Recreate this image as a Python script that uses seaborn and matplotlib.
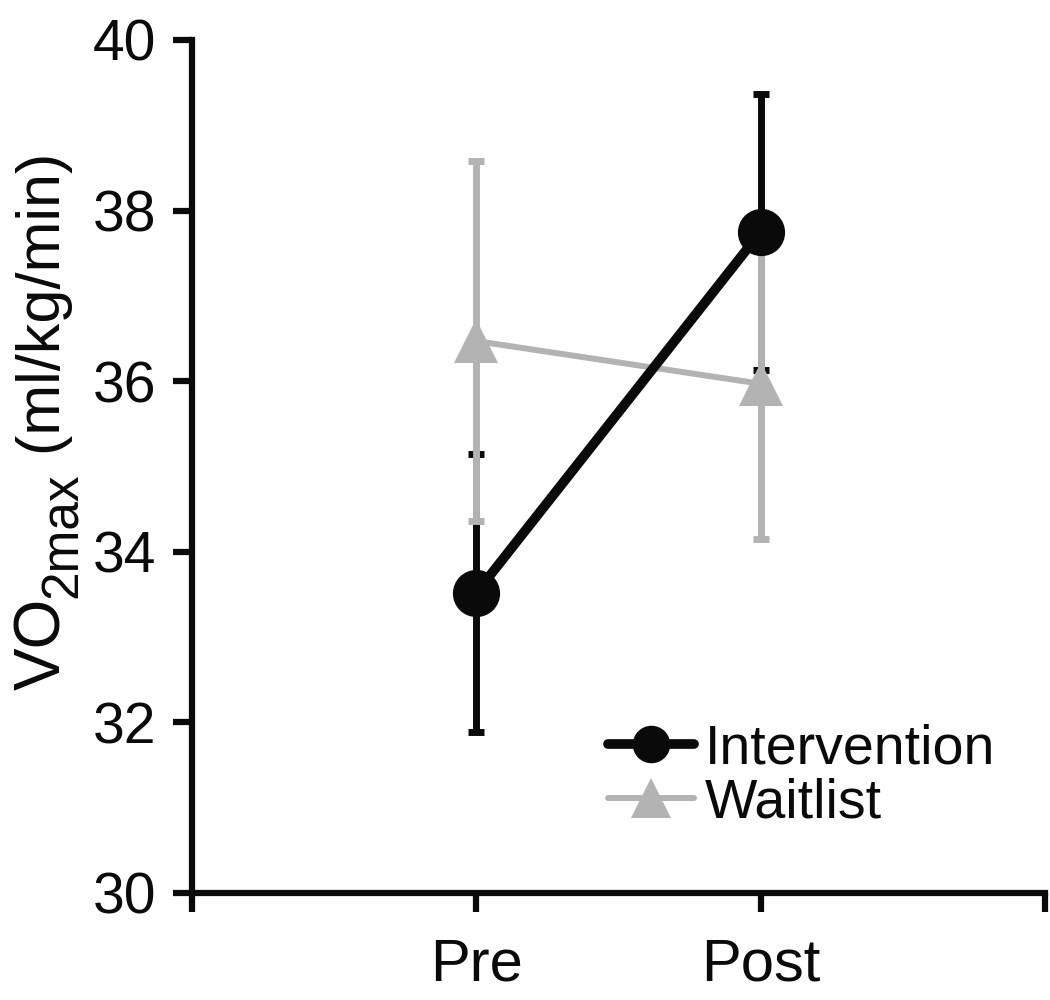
import numpy as np
import pandas as pd
import matplotlib
matplotlib.use("Agg")
import matplotlib.pyplot as plt
import seaborn as sns

# Values
phases = ["Pre", "Post"]
groups = ["Intervention", "Waitlist"]
intervention_mean = [33.52, 37.75]
intervention_err = [1.63, 1.62]
waitlist_mean = [36.47, 35.97]
waitlist_err = [2.11, 1.82]

colors = {"Intervention": "#0a0a0a", "Waitlist": "#b3b3b3"}
markers = {"Intervention": "o", "Waitlist": "^"}

pos = np.arange(1, len(phases) + 1)
df = pd.DataFrame({
    "pos": np.concatenate([pos, pos]),
    "VO2": intervention_mean + waitlist_mean,
    "err": intervention_err + waitlist_err,
    "group": [groups[0]] * len(phases) + [groups[1]] * len(phases),
})

sns.set_style("ticks")
plt.rcParams["font.family"] = ["Liberation Sans", "DejaVu Sans"]

fig = plt.figure(figsize=(10.5, 10), dpi=100)
ax = fig.add_axes([0.183, 0.107, 0.812, 0.853])

# error bars: black first, gray drawn over it
for z, g in [(1, "Intervention"), (2, "Waitlist")]:
    sub = df[df["group"] == g]
    ax.errorbar(sub["pos"], sub["VO2"], yerr=sub["err"], fmt="none",
                ecolor=colors[g], elinewidth=5, capsize=6, capthick=5,
                zorder=z)

# lines + markers: gray under black
for z, g in [(3, "Waitlist"), (4, "Intervention")]:
    sub = df[df["group"] == g]
    ms = 34 if g == "Intervention" else 31
    lw = 7 if g == "Intervention" else 4.3
    sns.lineplot(data=sub, x="pos", y="VO2", ax=ax, color=colors[g],
                 marker=markers[g], markersize=ms, markeredgewidth=0,
                 linewidth=lw, label=g, zorder=z, legend=False)

ax.set_xlim(0, len(phases) + 1)
ax.set_ylim(30, 40)
ax.set_xticks(np.arange(0, len(phases) + 2))
ax.set_xticklabels([""] + phases + [""], fontsize=43)
ax.set_yticks(np.arange(30, 41, 2))

for side in ["top", "right"]:
    ax.spines[side].set_visible(False)
for side in ["left", "bottom"]:
    ax.spines[side].set_linewidth(4.5)
    ax.spines[side].set_color("#0a0a0a")
ax.tick_params(axis="both", width=4.5, length=14, color="#0a0a0a",
               labelcolor="#0a0a0a")
ax.tick_params(axis="y", labelsize=41, pad=12)
ax.tick_params(axis="x", pad=18)
ax.set_xlabel("")
ax.set_ylabel("")

handles, labels = ax.get_legend_handles_labels()
order = [labels.index(g) for g in groups]
leg = ax.legend([handles[i] for i in order], [labels[i] for i in order],
                loc="lower right", bbox_to_anchor=(0.942, 0.075), frameon=False,
                fontsize=40, handlelength=1.55, handletextpad=0.2,
                labelspacing=0.02, borderaxespad=0, borderpad=0)
for t in leg.get_texts():
    t.set_color("#0a0a0a")
for h, ms in zip(leg.legend_handles, [27, 29]):
    h.set_markersize(ms)

# y label built from pieces so the subscript can be sized like the original
fig.canvas.draw()
renderer = fig.canvas.get_renderer()
W, H = fig.bbox.width, fig.bbox.height
parts = [("VO", 46, 60), ("2max", 37, 77), (" (ml/kg/min)", 44, 60)]
y_px = 1000 - 690
for txt, size, base_x in parts:
    t = fig.text(base_x / W, y_px / H, txt, rotation=90, rotation_mode="anchor",
                 ha="left", va="baseline", fontsize=size, color="#0a0a0a")
    bb = t.get_window_extent(renderer)
    y_px = bb.y1

fig.savefig("out.png", dpi=100)
